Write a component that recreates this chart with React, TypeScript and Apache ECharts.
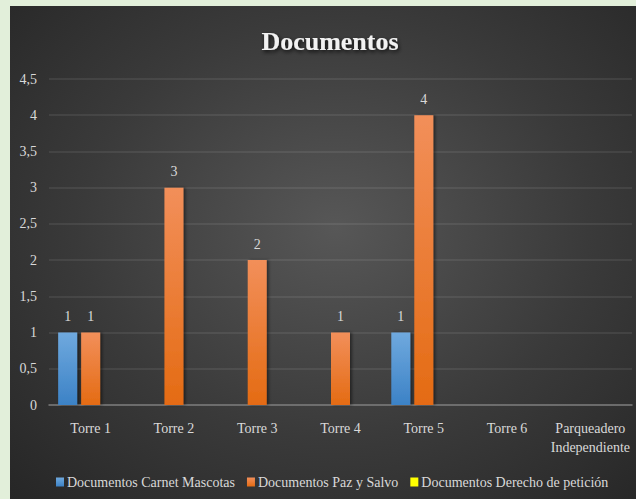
import React, { useEffect, useRef } from "react";
import * as echarts from "echarts";

const categories = ["Torre 1", "Torre 2", "Torre 3", "Torre 4", "Torre 5", "Torre 6", "Parqueadero\nIndependiente"];
const seriesNames = ["Documentos Carnet Mascotas", "Documentos Paz y Salvo", "Documentos Derecho de petición"];
const carnetMascotas = [1, 0, 0, 0, 1, 0, 0];
const pazYSalvo = [1, 3, 2, 1, 4, 0, 0];
const derechoPeticion = [0, 0, 0, 0, 0, 0, 0];

const FONT = "Liberation Serif";
const TXT = "#d9d9d9";

export default function App() {
  const ref = useRef<HTMLDivElement>(null);
  useEffect(() => {
    document.body.style.margin = "0";
    if (!ref.current) return;
    const chart = echarts.init(ref.current, null, { renderer: "svg" });
    const grad = (top: string, bottom: string) =>
      new echarts.graphic.LinearGradient(0, 0, 0, 1, [
        { offset: 0, color: top },
        { offset: 1, color: bottom },
      ]);
    const label = {
      show: true,
      position: "top" as const,
      distance: 9,
      color: TXT,
      fontFamily: FONT,
      fontSize: 14,
      formatter: (p: any) => (p.value === 0 ? "" : String(p.value)),
    };
    const barCommon = {
      type: "bar" as const,
      barWidth: 19,
      barGap: "21%",
    };
    chart.setOption({
      animation: false,
      backgroundColor: "transparent",
      textStyle: { fontFamily: FONT },
      title: {
        text: "Documentos",
        left: 320,
        textAlign: "center",
        top: 22,
        padding: 0,
        textStyle: {
          color: "#f2f2f2",
          fontFamily: FONT,
          fontSize: 26,
          fontWeight: "bold",
          textShadowColor: "rgba(0,0,0,0.8)",
          textShadowBlur: 4,
          textShadowOffsetX: 1,
          textShadowOffsetY: 2,
        },
      },
      legend: {
        data: seriesNames,
        left: 46,
        top: 469,
        padding: 0,
        itemWidth: 8,
        itemHeight: 9,
        itemGap: 12,
        icon: "rect",
        textStyle: { color: TXT, fontFamily: FONT, fontSize: 14, padding: [0, 0, 0, -2] },
      },
      grid: { left: 39, right: 4, top: 73, bottom: 94, containLabel: false },
      xAxis: {
        type: "category",
        data: categories,
        axisLine: { lineStyle: { color: "#7a7a7a", width: 1.5 } },
        axisTick: { show: false },
        axisLabel: { color: TXT, fontFamily: FONT, fontSize: 14, margin: 14, lineHeight: 19, interval: 0 },
      },
      yAxis: {
        type: "value",
        min: 0,
        max: 4.5,
        interval: 0.5,
        axisLine: { show: false },
        axisTick: { show: false },
        splitLine: { lineStyle: { color: "rgba(255,255,255,0.1)", width: 1.5 } },
        axisLabel: {
          color: TXT,
          fontFamily: FONT,
          fontSize: 14,
          margin: 12,
          formatter: (v: number) => String(v).replace(".", ","),
        },
      },
      series: [
        {
          ...barCommon,
          name: seriesNames[0],
          data: carnetMascotas,
          itemStyle: { color: grad("#6fa9de", "#3c82c6"), shadowColor: "rgba(0,0,0,0.45)", shadowBlur: 3, shadowOffsetX: 2 },
          label,
        },
        {
          ...barCommon,
          name: seriesNames[1],
          data: pazYSalvo,
          itemStyle: { color: grad("#f28f5a", "#e46b13"), shadowColor: "rgba(0,0,0,0.45)", shadowBlur: 3, shadowOffsetX: 2 },
          label,
        },
        {
          ...barCommon,
          name: seriesNames[2],
          data: derechoPeticion,
          itemStyle: { color: "#ffff00" },
          label,
        },
      ],
    });
    return () => chart.dispose();
  }, []);
  return (
    <div style={{ position: "fixed", left: 0, top: 0, width: 636, height: 499, background: "#e2efda" }}>
      <div
        ref={ref}
        style={{
          position: "absolute",
          left: 10,
          top: 6,
          width: 626,
          height: 493,
          background: "radial-gradient(ellipse at 52% 45%, #575757 0%, #3a3a3a 55%, #262626 100%)",
        }}
      />
    </div>
  );
}
